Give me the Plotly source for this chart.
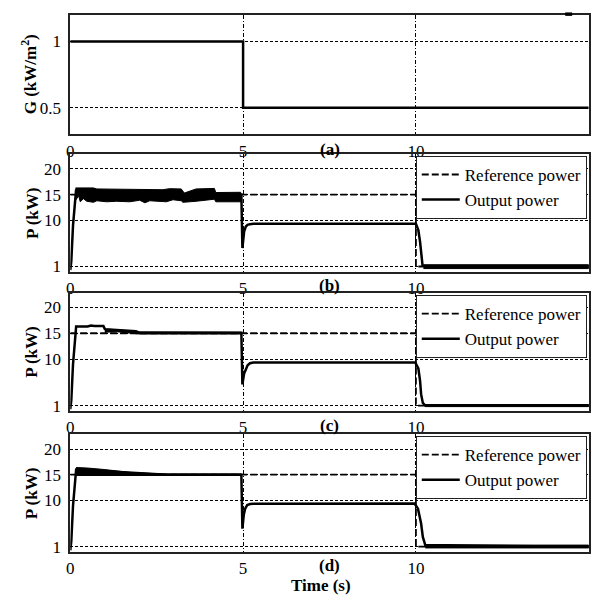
import plotly.graph_objects as go

FONT = "Liberation Serif"

# ---------------- data ----------------
time_ticks = [0, 5, 10, 15]
g_ticks = [0.5, 1]
p_ticks = [1, 10, 15, 20]

# (a) irradiance
g_t = [0, 5, 5, 15]
g_v = [1, 1, 0.5, 0.5]

# reference power (shared by b, c, d)
ref_t = [0, 10, 10, 15]
ref_p = [15, 15, 1, 1]

# (b) output power
b_t = [0, 0.03, 0.08, 0.13, 0.17, 0.3, 4.95, 4.98, 5.03, 5.08, 5.13, 5.2, 5.3, 10.0, 10.07, 10.12, 10.15, 10.19, 10.25, 15]
b_p = [0.3, 2, 9, 14, 16, 15, 15, 4.6, 7.8, 8.8, 9.1, 9.25, 9.3, 9.3, 8.1, 5.8, 3.2, 1.3, 1.0, 1.0]
b_up_t = [0.15, 0.38, 0.67, 0.77, 1.72, 2.49, 2.68, 2.87, 3.21, 3.3, 3.64, 4.17, 4.21, 4.93]
b_up_p = [16.3, 16.35, 16.3, 16.1, 16.0, 16.0, 15.95, 16.15, 16.1, 15.3, 16.1, 16.2, 15.4, 15.45]
b_lo_t = [0.17, 0.24, 0.29, 0.38, 0.48, 0.67, 0.77, 1.05, 1.34, 1.72, 2.01, 2.16, 2.3, 2.59, 2.78, 2.97, 3.21, 3.26, 3.64, 4.17, 4.21, 4.93]
b_lo_p = [14.0, 14.8, 13.6, 14.2, 13.7, 13.5, 13.8, 13.6, 13.7, 13.6, 13.9, 13.4, 13.8, 13.7, 13.6, 14.0, 13.8, 13.5, 13.7, 14.1, 13.6, 13.6]
b_tail_t = [10.22, 15]
b_tail_up = [1.35, 1.35]
b_tail_lo = [0.6, 0.6]

# (c) output power
c_t = [0, 0.03, 0.08, 0.13, 0.17, 0.5, 0.6, 0.7, 0.96, 1.0, 1.34, 1.9, 2.0, 4.95, 4.98, 5.03, 5.08, 5.13, 5.2, 5.3, 9.98, 10.07, 10.12, 10.15, 10.2, 10.27, 15]
c_p = [0.3, 2, 9, 14, 16.3, 16.3, 16.5, 16.4, 16.4, 15.8, 15.6, 15.4, 15.1, 15.1, 5.1, 7.2, 8.0, 8.8, 9.2, 9.35, 9.35, 8.2, 5.8, 3.2, 1.5, 1.0, 1.0]
c_up_t = [1.0, 1.34, 2.0, 4.95]
c_up_p = [15.8, 15.7, 15.25, 15.2]
c_lo_t = [1.0, 1.34, 2.0, 4.95]
c_lo_p = [15.2, 15.3, 14.85, 14.85]
c_tail_t = [10.27, 15]
c_tail_up = [1.2, 1.2]
c_tail_lo = [0.8, 0.8]

# (d) output power
d_t = [0, 0.03, 0.08, 0.13, 0.17, 2.8, 4.95, 4.98, 5.02, 5.06, 5.12, 5.2, 5.3, 9.96, 10.06, 10.15, 10.2, 10.27, 15]
d_p = [0.3, 2, 9, 14, 16, 15.0, 15.0, 4.5, 7.2, 8.4, 9.1, 9.3, 9.35, 9.4, 8.4, 5.5, 2.9, 1.3, 1.0]
d_up_t = [0.17, 0.5, 1.0, 1.25, 1.72, 2.3, 2.8, 4.95]
d_up_p = [16.4, 16.3, 16.0, 15.8, 15.45, 15.25, 15.15, 15.15]
d_lo_t = [0.17, 4.95]
d_lo_p = [14.85, 14.85]
d_tail_t = [10.27, 15]
d_tail_up = [1.3, 1.3]
d_tail_lo = [0.75, 0.75]

# ---------------- layout helpers ----------------
W, H = 597, 600
X0, X1 = 66.7, 588.7
panels = [  # top px, bottom px
    (15, 135.3),
    (155.3, 274),
    (294.7, 414),
    (437.3, 556),
]

def ydom(top, bot):
    return [1 - bot / H, 1 - top / H]

fig = go.Figure()

def band(xa, ya, up_t, up_p, lo_t, lo_p):
    fig.add_trace(go.Scatter(
        x=list(up_t) + list(lo_t)[::-1],
        y=list(up_p) + list(lo_p)[::-1],
        xaxis=xa, yaxis=ya, mode="lines", fill="toself",
        fillcolor="black", line=dict(color="black", width=1),
        showlegend=False, hoverinfo="skip"))

# panel a
fig.add_trace(go.Scatter(x=g_t, y=g_v, xaxis="x", yaxis="y", mode="lines",
                         line=dict(color="black", width=2.5), showlegend=False))

series = [
    ("x2", "y2", "legend", b_t, b_p, [(b_up_t, b_up_p, b_lo_t, b_lo_p), (b_tail_t, b_tail_up, b_tail_t, b_tail_lo)]),
    ("x3", "y3", "legend2", c_t, c_p, [(c_up_t, c_up_p, c_lo_t, c_lo_p), (c_tail_t, c_tail_up, c_tail_t, c_tail_lo)]),
    ("x4", "y4", "legend3", d_t, d_p, [(d_up_t, d_up_p, d_lo_t, d_lo_p), (d_tail_t, d_tail_up, d_tail_t, d_tail_lo)]),
]
for xa, ya, lg, t, p, bands in series:
    fig.add_trace(go.Scatter(x=ref_t, y=ref_p, xaxis=xa, yaxis=ya, mode="lines",
                             name="Reference power", legend=lg, legendgroup="r" + lg,
                             line=dict(color="black", width=1.8, dash="7px,3px")))
    fig.add_trace(go.Scatter(x=t, y=p, xaxis=xa, yaxis=ya, mode="lines",
                             name="Output power", legend=lg, legendgroup="o" + lg,
                             line=dict(color="black", width=2.5)))
    for bt in bands:
        band(xa, ya, *bt)

axis_common = dict(showline=True, mirror=True, linecolor="#222", linewidth=1.5,
                   showgrid=True, gridcolor="black", gridwidth=1, zeroline=False,
                   ticks="", tickfont=dict(family=FONT, size=17, color="black"))

layout = dict(width=W, height=H, margin=dict(l=0, r=0, t=0, b=0),
              paper_bgcolor="white", plot_bgcolor="white",
              font=dict(family=FONT, size=17, color="black"), annotations=[], shapes=[])

for i, (top, bot) in enumerate(panels):
    sx = "" if i == 0 else str(i + 1)
    layout["xaxis" + sx] = dict(axis_common, domain=[X0 / W, X1 / W], range=[0, 15],
                                tickvals=time_ticks, griddash="4px,2px,1px,2px",
                                anchor="y" + sx, ticklabelstandoff=0)
    if i == 0:
        yr, yt = [0.3, 1.2], g_ticks
    else:
        yr, yt = [-0.1, 22.85], p_ticks
    layout["yaxis" + sx] = dict(axis_common, domain=ydom(top, bot), range=yr,
                                tickvals=yt, griddash="3px,2px", anchor="x" + sx,
                                ticklabelstandoff=4)

# panel labels
labels = ["(a)", "(b)", "(c)", "(d)"]
label_y = [150, 287.5, 428, 569]
for lab, ly in zip(labels, label_y):
    layout["annotations"].append(dict(text="<b>%s</b>" % lab, x=327.7 / W, y=1 - ly / H,
                                      xref="paper", yref="paper", showarrow=False,
                                      xanchor="center", yanchor="middle",
                                      font=dict(family=FONT, size=17)))
layout["annotations"].append(dict(text="<b>Time (s)</b>", x=319.5 / W, y=1 - 589 / H,
                                  xref="paper", yref="paper", showarrow=False,
                                  xanchor="center", yanchor="middle",
                                  font=dict(family=FONT, size=17)))
# y titles
layout["annotations"].append(dict(text="<b>G (kW/m<sup>2</sup>)</b>", x=25 / W, y=1 - 75 / H,
                                  xref="paper", yref="paper", showarrow=False, textangle=-90,
                                  xanchor="center", yanchor="middle",
                                  font=dict(family=FONT, size=17)))
for top, bot in panels[1:]:
    layout["annotations"].append(dict(text="<b>P (kW)</b>", x=28 / W, y=1 - (top + bot) / 2 / H,
                                      xref="paper", yref="paper", showarrow=False, textangle=-90,
                                      xanchor="center", yanchor="middle",
                                      font=dict(family=FONT, size=17)))

# legends
leg_tops = [157, 297, 439]
for name, lt in zip(["legend", "legend2", "legend3"], leg_tops):
    layout[name] = dict(x=586.7 / W, xanchor="right", y=1 - lt / H, yanchor="top",
                        bgcolor="white", bordercolor="#222", borderwidth=1,
                        font=dict(family=FONT, size=17, color="black"),
                        itemwidth=38, tracegroupgap=3, traceorder="normal")

# small mark on top border
layout["shapes"].append(dict(type="rect", xref="paper", yref="paper",
                             x0=565 / W, x1=572 / W, y0=1 - 16 / H, y1=1 - 12.5 / H,
                             fillcolor="black", line=dict(width=0)))

fig.update_layout(**layout)
fig.write_html("out.html", config={"displayModeBar": False},
               post_script="document.body.style.margin='0px';document.body.style.overflow='hidden';")
